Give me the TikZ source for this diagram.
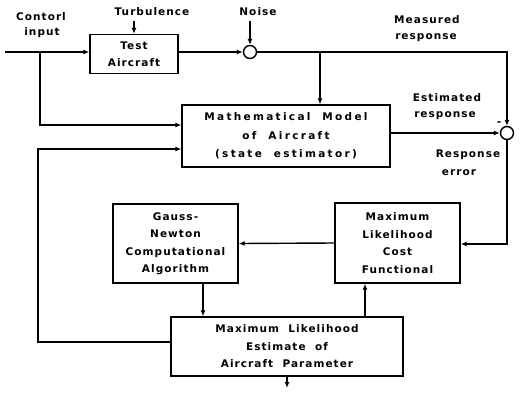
\documentclass[tikz,border=0pt]{standalone}
\usepackage{fontspec}
\setmainfont[LetterSpace=10,WordSpace=2]{DejaVu Sans}
\usetikzlibrary{arrows.meta}
\tikzset{
  blk/.style={draw, line width=1.4pt, inner sep=0pt, align=center, font=\fontsize{10.5}{17.5}\selectfont\bfseries},
  sumc/.style={draw, line width=1.4pt, circle, inner sep=0pt, minimum size=13pt},
  wire/.style={line width=1.4pt},
  arr/.style={wire, -{Latex[length=6pt,width=5pt]}},
  lbl/.style={inner sep=0pt, font=\fontsize{10.5}{17.5}\selectfont\bfseries},
}
\begin{document}
\begin{tikzpicture}[x=1pt,y=-1pt]
\useasboundingbox (0,0) rectangle (523,394);
% blocks
\node[blk, minimum width=88pt, minimum height=39pt] (ta) at (134,54) {Test\\Aircraft};
\node[sumc] (n1) at (250,52) {};
\node[blk, minimum width=208pt, minimum height=62pt, font=\fontsize{10.5}{18.5}\selectfont\bfseries\addfontfeatures{LetterSpace=22}] (mm) at (286,136) {Mathematical Model\\of Aircraft\\(state estimator)};
\node[sumc] (sum) at (507,133) {};
\node[blk, minimum width=125pt, minimum height=79pt] (gn) at (175.5,243.5) {Gauss-\\Newton\\Computational\\Algorithm};
\node[blk, minimum width=125pt, minimum height=80pt] (ml) at (397.5,243) {Maximum\\Likelihood\\Cost\\Functional};
\node[blk, minimum width=232pt, minimum height=59pt] (mle) at (287,346.5) {Maximum Likelihood\\Estimate of\\Aircraft Parameter};
% labels
\node[lbl] (tcin1) at (41,17) {Contorl};
\node[lbl] (tcin2) at (42,33) {input};
\node[lbl] (tturb) at (152,12) {Turbulence};
\node[lbl] (tnoise) at (258,12) {Noise};
\node[lbl] (tmeas1) at (427,20) {Measured};
\node[lbl] (tmeas2) at (426,38) {response};
\node[lbl] (test1) at (447,98) {Estimated};
\node[lbl] (test2) at (445,116) {response};
\node[lbl] (tres1) at (468,155) {Response};
\node[lbl] (tres2) at (459,173) {error};
\node[lbl] (tminus) at (499,124) {-};
% coordinates
\coordinate (cin) at (5,52);
\coordinate (jb) at (40,52);
\coordinate (jc) at (40,125);
\coordinate (yc) at (0,125);
\coordinate (fb1) at (38,342);
\coordinate (fb2) at (38,149);
\coordinate (yf) at (0,149);
\coordinate (yfb) at (0,342);
\coordinate (ye) at (0,244);
\coordinate (tb) at (134,21);
\coordinate (nb) at (250,21);
\coordinate (mj) at (320,52);
\coordinate (gx) at (203,0);
\coordinate (mx) at (365,0);
\coordinate (out) at (287,388);
% connectors
\draw[arr] (cin) -- (ta.west |- cin);
\draw[arr] (ta.east |- n1) -- (n1.west);
\draw[arr] (tb) -- (ta.north);
\draw[arr] (nb) -- (n1.north);
\draw[arr] (n1.east) -- (sum.north |- n1) -- (sum.north);
\draw[arr] (mj) -- (mj |- mm.north);
\draw[arr] (jb) -- (jc) -- (mm.west |- yc);
\draw[arr] (mle.west |- yfb) -- (fb1) -- (fb2) -- (mm.west |- yf);
\draw[arr] (mm.east |- sum) -- (sum.west);
\draw[arr] (sum.south) -- (sum.south |- ye) -- (ml.east |- ye);
\draw[arr] (ml.west) -- (gn.east);
\draw[arr] (gx |- gn.south) -- (gx |- mle.north);
\draw[arr] (mx |- mle.north) -- (mx |- ml.south);
\draw[arr] (mle.south) -- (out);
\end{tikzpicture}
\end{document}
